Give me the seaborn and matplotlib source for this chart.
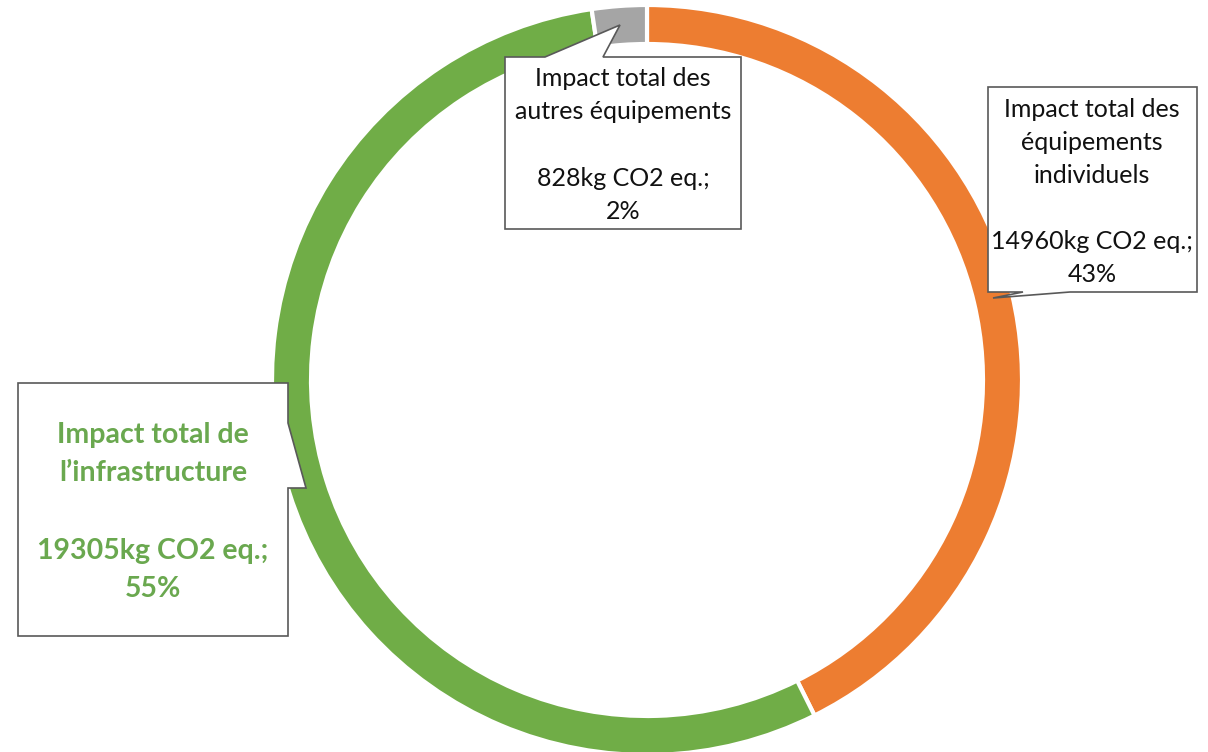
import matplotlib
matplotlib.use("Agg")
import matplotlib.pyplot as plt
from matplotlib.patches import Polygon
import seaborn as sns

# ---- data ----
categories = ["Impact total des\néquipements\nindividuels",
              "Impact total de\nl’infrastructure",
              "Impact total des\nautres équipements"]
values_kg = [14960, 19305, 828]
colors = ["#ED7D31", "#70AD47", "#A5A5A5"]

sns.set_theme(style="white")
plt.rcParams["font.family"] = ["Lato", "DejaVu Sans"]

W, H = 1208, 752
fig = plt.figure(figsize=(W / 100, H / 100), dpi=100)
ax = fig.add_axes([0, 0, 1, 1])

def fy(y):
    return H - y

cx, cy = 647, 380
ax.pie(values_kg, colors=colors, startangle=90, counterclock=False,
       radius=375, center=(cx, fy(cy)),
       wedgeprops=dict(width=39, edgecolor="white", linewidth=3))

ax.set_xlim(0, W)
ax.set_ylim(0, H)
ax.set_aspect("equal")
ax.axis("off")

total = sum(values_kg)
pcts = [round(v / total * 100) for v in values_kg]
labels = [f"{c}\n\n{v}kg CO2 eq.;\n{p}%" for c, v, p in zip(categories, values_kg, pcts)]

def callout(pts):
    poly = Polygon([(x, fy(y)) for x, y in pts], closed=True, facecolor="white",
                   edgecolor="#595959", linewidth=1.2, zorder=5)
    ax.add_patch(poly)

# orange callout (right)
callout([(988, 87), (1197, 87), (1197, 292), (1070, 292), (993, 298), (1023, 292), (988, 292)])
ax.text(1092, fy(192), labels[0], ha="center", va="center", fontsize=18,
        linespacing=1.53, color="#111111", zorder=6)

# green callout (left)
callout([(18, 383), (288, 383), (288, 423), (306, 488), (288, 488), (288, 636), (18, 636)])
ax.text(153, fy(512), labels[1], ha="center", va="center", fontsize=20.5,
        fontweight="bold", linespacing=1.6, color="#6AA84F", zorder=6)

# gray callout (top)
callout([(505, 57), (545, 57), (620, 25), (603, 57), (741, 57), (741, 229), (505, 229)])
ax.text(623, fy(145), labels[2], ha="center", va="center", fontsize=18,
        linespacing=1.53, color="#111111", zorder=6)

fig.savefig("out.png", dpi=100, facecolor="white")
